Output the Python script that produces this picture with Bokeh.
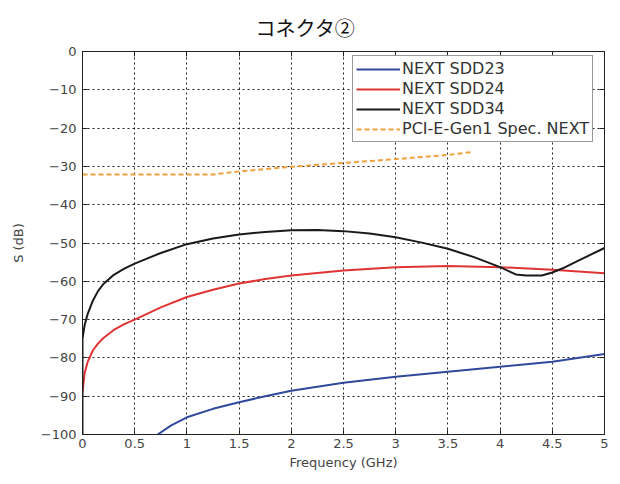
from bokeh.plotting import figure
from bokeh.models import LinearAxis, Legend, LegendItem, FixedTicker, Range1d
from bokeh.embed import file_html
from bokeh.resources import INLINE

# ---- data ----
x_ticks = [0, 0.5, 1, 1.5, 2, 2.5, 3, 3.5, 4, 4.5, 5]
x_tick_labels = ["0", "0.5", "1", "1.5", "2", "2.5", "3", "3.5", "4", "4.5", "5"]
y_ticks = [0, -10, -20, -30, -40, -50, -60, -70, -80, -90, -100]

sdd23_f = [0.72, 0.85, 1.0, 1.25, 1.5, 1.75, 2.0, 2.5, 3.0, 3.5, 4.0, 4.5, 5.0]
sdd23_s = [-100, -97.6, -95.5, -93.3, -91.6, -90.0, -88.6, -86.5, -84.9, -83.6, -82.3, -81.0, -79.0]

sdd24_f = [0, 0.02, 0.05, 0.1, 0.15, 0.2, 0.3, 0.4, 0.5, 0.75, 1.0, 1.25, 1.5, 1.75, 2.0, 2.5, 3.0, 3.5, 4.0, 4.5, 5.0]
sdd24_s = [-89, -84, -81, -78, -76.2, -74.8, -72.7, -71.2, -70, -66.8, -64.1, -62.2, -60.6, -59.4, -58.5, -57.2, -56.3, -56.0, -56.3, -57.0, -57.9]

sdd34_f = [0, 0, 0.02, 0.05, 0.1, 0.15, 0.2, 0.3, 0.4, 0.5, 0.75, 1.0, 1.25, 1.5, 1.75, 2.0, 2.25, 2.5, 2.75,
           3.0, 3.25, 3.5, 3.75, 4.0, 4.15, 4.25, 4.4, 4.5, 4.6, 4.75, 5.0]
sdd34_s = [-100, -75, -71.5, -68.5, -65, -62.5, -60.7, -58.3, -56.7, -55.4, -52.6, -50.3, -48.8, -47.8, -47.1, -46.7, -46.6, -46.9, -47.5,
           -48.5, -49.9, -51.5, -53.7, -56.3, -58.2, -58.5, -58.5, -57.7, -56.6, -54.6, -51.3]

spec_f = [0, 0.5, 1.0, 1.25, 1.5, 2.0, 2.5, 3.0, 3.5, 3.72]
spec_s = [-32.1, -32.1, -32.1, -32.1, -31.3, -30.1, -29.1, -28.1, -27.0, -26.3]

FONT = "DejaVu Sans"

p = figure(width=612, height=476, output_backend="svg", toolbar_location=None,
           x_range=Range1d(0, 5), y_range=Range1d(-100, 0),
           min_border_left=82, min_border_right=8, min_border_top=51, min_border_bottom=42,
           title="コネクタ②")
p.title.align = "left"
p.title.text_font = "Noto Sans CJK JP"
p.title.text_font_size = "20px"
p.title.text_font_style = "normal"
p.title.text_color = "#111111"
p.title.offset = 173
p.title.standoff = 20
p.title.text_line_height = 0.8

p.outline_line_color = "#222222"
p.outline_line_width = 1
p.background_fill_color = "white"

for ax in (p.xaxis[0], p.yaxis[0]):
    ax.major_tick_in = 5
    ax.major_tick_out = 0
    ax.minor_tick_in = 0
    ax.minor_tick_out = 0
    ax.axis_line_color = "#222222"
    ax.major_tick_line_color = "#222222"
    ax.major_label_text_font = FONT
    ax.major_label_text_font_size = "13px"
    ax.major_label_text_color = "#444444"
    ax.axis_label_text_font = FONT
    ax.axis_label_text_font_size = "13px"
    ax.axis_label_text_font_style = "normal"
    ax.axis_label_text_color = "#444444"

p.xaxis[0].ticker = FixedTicker(ticks=x_ticks)
p.xaxis[0].major_label_overrides = {t: l for t, l in zip(x_ticks, x_tick_labels)}
p.xaxis[0].axis_label = "Frequency (GHz)"
p.xaxis[0].axis_label_standoff = 4
p.xaxis[0].major_label_standoff = 4
p.yaxis[0].ticker = FixedTicker(ticks=y_ticks)
p.yaxis[0].axis_label = "S (dB)"
p.yaxis[0].axis_label_standoff = 12
p.yaxis[0].major_label_standoff = 6

# box ticks on top/right
top = LinearAxis(ticker=FixedTicker(ticks=x_ticks), major_label_text_font_size="0px",
                 major_tick_in=5, major_tick_out=0, minor_tick_in=0, minor_tick_out=0,
                 axis_line_color="#222222", major_tick_line_color="#222222")
right = LinearAxis(ticker=FixedTicker(ticks=y_ticks), major_label_text_font_size="0px",
                   major_tick_in=5, major_tick_out=0, minor_tick_in=0, minor_tick_out=0,
                   axis_line_color="#222222", major_tick_line_color="#222222")
top.major_label_standoff = 0
right.major_label_standoff = 0
p.add_layout(top, "above")
p.add_layout(right, "right")

for g in (p.xgrid[0], p.ygrid[0]):
    g.grid_line_color = "#222222"
    g.grid_line_dash = "2 3"
    g.grid_line_width = 1
    g.grid_line_alpha = 1.0

r1 = p.line(sdd23_f, sdd23_s, line_color="#2f4a9c", line_width=2)
r2 = p.line(sdd24_f, sdd24_s, line_color="#e03434", line_width=2)
r3 = p.line(sdd34_f, sdd34_s, line_color="#1a1a1a", line_width=2)
r4 = p.line(spec_f, spec_s, line_color="#f0a23c", line_width=2, line_dash="5 3")

legend = Legend(items=[
    LegendItem(label="NEXT SDD23", renderers=[r1]),
    LegendItem(label="NEXT SDD24", renderers=[r2]),
    LegendItem(label="NEXT SDD34", renderers=[r3]),
    LegendItem(label="PCI-E-Gen1 Spec. NEXT", renderers=[r4]),
], location=(270, 292), margin=0, padding=3, spacing=1,
    label_text_font=FONT, label_text_font_size="16px", label_text_color="#333333",
    label_height=18, glyph_height=18, glyph_width=44, label_standoff=2,
    border_line_color="#333333", border_line_width=1, background_fill_alpha=1.0)
p.add_layout(legend, "center")

open("out.html", "w").write(file_html(p, INLINE))
